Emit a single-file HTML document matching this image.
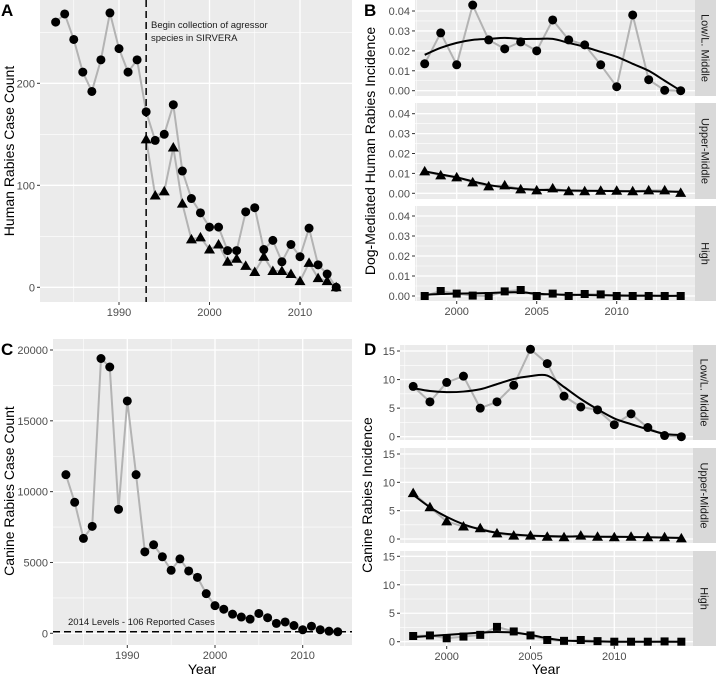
<!DOCTYPE html>
<html><head><meta charset="utf-8"><style>
body{margin:0;background:#fff;width:716px;height:678px;overflow:hidden}
svg{font-family:"Liberation Sans",Arial,sans-serif}
</style></head><body>
<svg id="c" width="716" height="678" viewBox="0 0 716 678" xmlns="http://www.w3.org/2000/svg"></svg>
<script>
// ---- Panel A data ----
const yearsA = [1983,1984,1985,1986,1987,1988,1989,1990,1991,1992,1993,1994,1995,1996,1997,1998,1999,2000,2001,2002,2003,2004,2005,2006,2007,2008,2009,2010,2011,2012,2013,2014];
const humanTotal = [260,268,243,211,192,223,269,234,211,223,172,144,150,179,114,87,73,59,59,36,36,74,78,37,46,25,42,30,58,22,13,0];
const yearsAgg = [1993,1994,1995,1996,1997,1998,1999,2000,2001,2002,2003,2004,2005,2006,2007,2008,2009,2010,2011,2012,2013,2014];
const humanDog = [145,90,94,137,82,47,49,37,42,25,28,21,15,30,16,16,13,6,24,9,6,0];
const ticksA = [0,100,200];
// ---- Panel B data ----
const yearsB = [1998,1999,2000,2001,2002,2003,2004,2005,2006,2007,2008,2009,2010,2011,2012,2013,2014];
const bLow = [0.0135,0.029,0.013,0.043,0.0255,0.021,0.0245,0.020,0.0355,0.0255,0.023,0.013,0.002,0.038,0.0055,0.0002,0];
const bLowSmooth = [0.018,0.0215,0.024,0.0255,0.026,0.0265,0.026,0.026,0.026,0.024,0.022,0.0195,0.017,0.0135,0.010,0.005,0.0];
const bUpper = [0.011,0.009,0.008,0.0055,0.0035,0.004,0.002,0.0015,0.0025,0.001,0.001,0.0013,0.0013,0.001,0.0015,0.0015,0.0002];
const bUpperSmooth = [0.011,0.0095,0.008,0.006,0.0042,0.003,0.0022,0.0018,0.0016,0.0014,0.0013,0.0012,0.0011,0.001,0.001,0.0009,0.0008];
const bHigh = [0,0.0025,0.0012,0.0002,0,0.0023,0.003,0,0.0012,0,0.001,0.0008,0,0,0,0,0];
const bHighSmooth = [0.0006,0.001,0.0012,0.0013,0.0015,0.0018,0.0018,0.0012,0.0008,0.0006,0.0005,0.0004,0.0003,0.0002,0.0002,0.0001,0.0001];
const ticksB = [0,0.01,0.02,0.03,0.04];
const tickLabelsB = ["0.00","0.01","0.02","0.03","0.04"];
// ---- Panel C data ----
const canineCount = [11200,9250,6700,7550,19400,18800,8750,16400,11200,5750,6250,5400,4450,5250,4400,3950,2800,1950,1700,1350,1150,1000,1400,1100,700,800,550,250,500,250,150,106];
const ticksC = [0,5000,10000,15000,20000];
// ---- Panel D data ----
const dLow = [8.8,6.1,9.5,10.6,5,6.1,9,15.3,12.8,7.1,5.2,4.7,2.1,4,1.6,0.2,0];
const dLowSmooth = [8.5,8.0,7.8,7.9,8.3,9.2,10.1,10.6,10.7,8.7,6.6,4.8,3.2,2.2,1.3,0.5,0.3];
const dUpper = [8.1,5.6,3.1,2.2,1.9,1,0.6,0.6,0.4,0.3,0.6,0.4,0.3,0.4,0.3,0.3,0.1];
const dUpperSmooth = [7.8,5.6,3.9,2.6,1.7,1.1,0.8,0.6,0.5,0.45,0.45,0.4,0.4,0.35,0.3,0.25,0.2];
const dHigh = [1,1.1,0.6,0.9,1.2,2.6,1.8,1.1,0.3,0.15,0.3,0.1,0,0,0,0.05,0];
const dHighSmooth = [0.8,1.0,1.2,1.4,1.6,1.7,1.6,1.2,0.6,0.2,0.1,0.05,0,0,0,0,0];
const ticksD = [0,5,10,15];

const svg = document.getElementById('c');
const NS = 'http://www.w3.org/2000/svg';
function mk(tag, attrs, parent){const e=document.createElementNS(NS,tag);for(const k in attrs)e.setAttribute(k,attrs[k]);(parent||svg).appendChild(e);return e;}
function lin(d0,d1,p0,p1){return v=>p0+(v-d0)*(p1-p0)/(d1-d0);}
function txt(x,y,s,attrs){const t=mk('text',Object.assign({x:x,y:y},attrs||{}));t.textContent=s;return t;}

function panelBg(x0,y0,x1,y1,xs,ys,xMaj,xMin,yMaj,yMin,name){
  const r=mk('rect',{x:x0,y:y0,width:x1-x0,height:y1-y0,fill:'#ebebeb'});
  
  
  yMin.forEach(v=>mk('line',{x1:x0,x2:x1,y1:ys(v),y2:ys(v),stroke:'#fff','stroke-width':0.6}));
  xMin.forEach(v=>{if(xs(v)>x0&&xs(v)<x1)mk('line',{x1:xs(v),x2:xs(v),y1:y0,y2:y1,stroke:'#fff','stroke-width':0.6});});
  yMaj.forEach(v=>mk('line',{x1:x0,x2:x1,y1:ys(v),y2:ys(v),stroke:'#fff','stroke-width':1.3}));
  xMaj.forEach(v=>mk('line',{x1:xs(v),x2:xs(v),y1:y0,y2:y1,stroke:'#fff','stroke-width':1.3}));
}
function yTicks(x0,ys,vals,labels,name){
  vals.forEach((v,i)=>{
    mk('line',{x1:x0-3,x2:x0,y1:ys(v),y2:ys(v),stroke:'#333','stroke-width':1});
    const t=txt(x0-5,ys(v)+4,labels?labels[i]:String(v),{'font-size':11,fill:'#4d4d4d','text-anchor':'end'});
    
    
  });
}
function xTicks(y1,xs,vals,name){
  vals.forEach(v=>{
    mk('line',{x1:xs(v),x2:xs(v),y1:y1,y2:y1+3,stroke:'#333','stroke-width':1});
    const t=txt(xs(v),y1+14,String(v),{'font-size':11,fill:'#4d4d4d','text-anchor':'middle'});
    
    
  });
}
function line(xsArr,vals,xs,ys,color,w,name){
  const p=mk('polyline',{points:xsArr.map((x,i)=>xs(x)+','+ys(vals[i])).join(' '),fill:'none',stroke:color,'stroke-width':w,'stroke-linejoin':'round'});
  
  
}
function smooth(xsArr,vals,xs,ys,name){
  const pts=xsArr.map((x,i)=>[xs(x),ys(vals[i])]);
  let d='M'+pts[0][0]+','+pts[0][1];
  for(let i=0;i<pts.length-1;i++){
    const p0=pts[Math.max(0,i-1)],p1=pts[i],p2=pts[i+1],p3=pts[Math.min(pts.length-1,i+2)];
    const c1=[p1[0]+(p2[0]-p0[0])/6,p1[1]+(p2[1]-p0[1])/6],c2=[p2[0]-(p3[0]-p1[0])/6,p2[1]-(p3[1]-p1[1])/6];
    d+=` C${c1[0]},${c1[1]} ${c2[0]},${c2[1]} ${p2[0]},${p2[1]}`;
  }
  const p=mk('path',{d:d,fill:'none',stroke:'#000','stroke-width':2});
  
  
}
function points(xsArr,vals,xs,ys,shape,name){
  xsArr.forEach((x,i)=>{
    const cx=xs(x),cy=ys(vals[i]);let e;
    if(shape==='circle')e=mk('circle',{cx:cx,cy:cy,r:4.5,fill:'#000'});
    else if(shape==='triangle')e=mk('polygon',{points:`${cx},${cy-5.5} ${cx-5.5},${cy+4} ${cx+5.5},${cy+4}`,fill:'#000'});
    else e=mk('rect',{x:cx-4,y:cy-4,width:8,height:8,fill:'#000'});
    
    
  });
}
function strip(x0,y0,x1,y1,label,name){
  const r=mk('rect',{x:x0,y:y0,width:x1-x0,height:y1-y0,fill:'#d9d9d9'});
  
  
  const cx=(x0+x1)/2,cy=(y0+y1)/2;
  const t=txt(cx,cy,label,{'font-size':11,fill:'#1a1a1a','text-anchor':'middle',transform:`rotate(90 ${cx} ${cy})`,dy:4});
  
  
}
function ytitle(x,y,s,name){
  const t=txt(x,y,s,{'font-size':14,fill:'#000','text-anchor':'middle',transform:`rotate(-90 ${x} ${y})`});
  
  
}
function letter(x,y,s){
  const t=txt(x,y,s,{'font-size':17,'font-weight':'bold',fill:'#000'});
  
  
}

// ===== Panel A =====
{
  const xs=lin(1990,2010,119,300), ys=lin(0,200,287.3,83.3);
  panelBg(40,0,352,302,xs,ys,[1990,2000,2010],[1985,1995,2005],ticksA,[50,150,250],'panel-a');
  line(yearsA,humanTotal,xs,ys,'#b3b3b3',2,'human-total-line');
  line(yearsAgg,humanDog,xs,ys,'#b3b3b3',2,'human-dog-line');
  points(yearsA,humanTotal,xs,ys,'circle','human-total-point');
  points(yearsAgg,humanDog,xs,ys,'triangle','human-dog-point');
  const dl=mk('line',{x1:xs(1993),x2:xs(1993),y1:0,y2:302,stroke:'#000','stroke-width':1.5,'stroke-dasharray':'7,4'});
  
  
  const a1=txt(151,28,'Begin collection of agressor',{'font-size':9.5,fill:'#1a1a1a'});
  
  
  const a2=txt(151,41,'species in SIRVERA',{'font-size':9.5,fill:'#1a1a1a'});
  
  
  yTicks(40,ys,ticksA,null,'panel-a');
  xTicks(302,xs,[1990,2000,2010],'panel-a');
  ytitle(14,151,'Human Rabies Case Count','panel-a-y-axis-title');
  letter(1,16,'A');
}
// ===== Panel B =====
{
  const xs=lin(2000,2010,456.7,616.7);
  const rows=[[0,96,11,90.7,bLow,bLowSmooth,'circle','Low/L. Middle','low'],[103,199,113.7,193.3,bUpper,bUpperSmooth,'triangle','Upper-Middle','upper'],[206,301,216,296,bHigh,bHighSmooth,'square','High','high']];
  rows.forEach(r=>{
    const ys=lin(0,0.04,r[3],r[2]);
    panelBg(415,r[0],695,r[1],xs,ys,[2000,2005,2010],[1997.5,2002.5,2007.5,2012.5],ticksB,[0.005,0.015,0.025,0.035],'panel-b-'+r[8]);
    line(yearsB,r[4],xs,ys,'#b3b3b3',2,'panel-b-'+r[8]+'-line');
    smooth(yearsB,r[5],xs,ys,'panel-b-'+r[8]+'-smooth');
    points(yearsB,r[4],xs,ys,r[6],'panel-b-'+r[8]+'-point');
    yTicks(415,ys,ticksB,tickLabelsB,'panel-b-'+r[8]);
    strip(695,r[0],716,r[1],r[7],'panel-b-'+r[8]+'-strip');
  });
  xTicks(301,xs,[2000,2005,2010],'panel-b');
  ytitle(375,151,'Dog-Mediated Human Rabies Incidence','panel-b-y-axis-title');
  letter(364,16,'B');
}
// ===== Panel C =====
{
  const xs=lin(1990,2010,462.3-335,637.7-335), ys=lin(0,20000,633.3,350);
  panelBg(53,339,352,645,xs,ys,[1990,2000,2010],[1985,1995,2005],ticksC,[2500,7500,12500,17500],'panel-c');
  line(yearsA,canineCount,xs,ys,'#b3b3b3',2,'canine-count-line');
  points(yearsA,canineCount,xs,ys,'circle','canine-count-point');
  const dl=mk('line',{x1:53,x2:352,y1:ys(106),y2:ys(106),stroke:'#000','stroke-width':1.5,'stroke-dasharray':'7,4'});
  
  
  const a=txt(68,625,'2014 Levels - 106 Reported Cases',{'font-size':9.5,fill:'#1a1a1a'});
  
  
  yTicks(53,ys,ticksC,null,'panel-c');
  xTicks(645,xs,[1990,2000,2010],'panel-c');
  const xt=txt(202,674,'Year',{'font-size':14,fill:'#000','text-anchor':'middle'});
  
  
  ytitle(14,491,'Canine Rabies Case Count','panel-c-y-axis-title');
  letter(1,355,'C');
}
// ===== Panel D =====
{
  const xs=lin(2000,2010,446.7,614.3);
  const rows=[[345,440,351,436.7,dLow,dLowSmooth,'circle','Low/L. Middle','low'],[448,543,454,539,dUpper,dUpperSmooth,'triangle','Upper-Middle','upper'],[551,646,556.3,641.7,dHigh,dHighSmooth,'square','High','high']];
  rows.forEach(r=>{
    const ys=lin(0,15,r[3],r[2]);
    panelBg(400,r[0],693,r[1],xs,ys,[2000,2005,2010],[1997.5,2002.5,2007.5,2012.5],ticksD,[2.5,7.5,12.5],'panel-d-'+r[8]);
    line(yearsB,r[4],xs,ys,'#b3b3b3',2,'panel-d-'+r[8]+'-line');
    smooth(yearsB,r[5],xs,ys,'panel-d-'+r[8]+'-smooth');
    points(yearsB,r[4],xs,ys,r[6],'panel-d-'+r[8]+'-point');
    yTicks(400,ys,ticksD,null,'panel-d-'+r[8]);
    strip(693,r[0],716,r[1],r[7],'panel-d-'+r[8]+'-strip');
  });
  xTicks(646,xs,[2000,2005,2010],'panel-d');
  const xt=txt(546,674,'Year',{'font-size':14,fill:'#000','text-anchor':'middle'});
  
  
  ytitle(372,495,'Canine Rabies Incidence','panel-d-y-axis-title');
  letter(364,355,'D');
}
</script>
</body></html>
